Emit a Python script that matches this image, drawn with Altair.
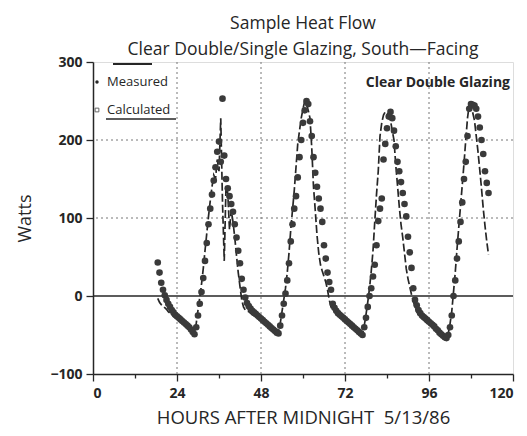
import altair as alt
import pandas as pd

# ---- data (half-hour samples, one list per day segment) ----
SEG_STARTS = [18.5, 43.5, 68.5, 92.5]

measured_seg1 = [43, 30, 17, 8, 1, -5, -10, -14, -18, -21,
                 -24, -26, -28, -30, -32, -34, -36, -38, -40, -43,
                 -46, -49, -40, -25, -10, 5, 23, 45, 68, 92,
                 112, 130, 148, 165, 185, 198, 172, 253, 180, 150,
                 138, 128, 118, 108, 92, 75, 58, 42, 22, 8]
measured_seg2 = [-2, -9, -13, -16, -19, -21, -23, -25, -27, -29,
                 -31, -33, -35, -37, -39, -41, -43, -45, -47, -48,
                 -38, -25, -10, 3, 20, 42, 70, 92, 112, 128,
                 152, 178, 200, 222, 238, 250, 246, 224, 205, 178,
                 158, 140, 125, 112, 95, 65, 48, 30, 18, 8]
measured_seg3 = [-10, -15, -19, -22, -24, -26, -28, -30, -32, -34,
                 -36, -38, -40, -42, -44, -46, -48, -50, -40, -28,
                 -14, 0, 10, 25, 40, 65, 96, 112, 125, 175,
                 195, 215, 230, 236, 228, 212, 192, 172, 160, 146,
                 132, 118, 102, 76, 56, 36, 10, -5]
measured_seg4 = [-12, -18, -22, -25, -27, -29, -31, -33, -35, -37,
                 -39, -42, -44, -47, -49, -51, -53, -54, -50, -40,
                 -25, 0, 20, 48, 70, 95, 120, 150, 172, 205,
                 240, 246, 245, 244, 240, 230, 216, 200, 182, 160,
                 145, 132]

calculated_seg1 = [-3, -8, -11, -13, -15, -17, -20, -22, -24, -26,
                   -28, -30, -31, -33, -34, -36, -38, -40, -42, -44,
                   -47, -46, -35, -18, -2, 15, 35, 58, 80, 102,
                   122, 140, 155, 150, 175, 160, 228, 120, 45, 140,
                   132, 85, 110, 95, 75, 52, 30, 12, -5, -14]
calculated_seg2 = [-18, -19, -20, -22, -24, -25, -27, -28, -30, -32,
                   -34, -35, -37, -39, -40, -42, -44, -45, -47, -46,
                   -35, -20, -5, 10, 30, 55, 85, 110, 135, 165,
                   195, 212, 228, 240, 250, 246, 238, 228, 190, 140,
                   110, 78, 55, 40, 32, 25, 18, 8, -5, -14]
calculated_seg3 = [-18, -20, -22, -24, -26, -28, -29, -31, -33, -35,
                   -36, -38, -40, -42, -44, -46, -48, -49, -38, -24,
                   -8, 10, 32, 58, 95, 130, 160, 205, 222, 232,
                   236, 235, 232, 225, 212, 200, 168, 142, 115, 92,
                   75, 55, 35, 22, 12, 2, -6, -14]
calculated_seg4 = [-20, -24, -27, -29, -31, -33, -35, -36, -38, -40,
                   -42, -44, -46, -48, -50, -52, -53, -53, -48, -36,
                   -20, 5, 30, 60, 88, 115, 142, 170, 200, 228,
                   245, 243, 235, 225, 205, 185, 162, 138, 112, 90,
                   70, 53]

X_TICKS = [0, 24, 48, 72, 96, 120]
X_MINOR = [0, 6, 12, 18, 24, 30, 36, 42, 48, 54, 60, 66, 72, 78, 84, 90, 96, 102, 108, 114, 120]
Y_TICKS = [-100, 0, 100, 200, 300]
X_GRID = [24, 48, 72, 96]
Y_GRID = [100, 200]

FONT = "Open Sans"
INK = "#262626"


def build(segments):
    rows = []
    for start, vals in zip(SEG_STARTS, segments):
        for i, v in enumerate(vals):
            rows.append({"hour": start + 0.5 * i, "watts": v})
    return pd.DataFrame(rows)


meas = build([measured_seg1, measured_seg2, measured_seg3, measured_seg4])
calc = build([calculated_seg1, calculated_seg2, calculated_seg3, calculated_seg4])

xscale = alt.Scale(domain=[0, 120], nice=False, zero=False)
yscale = alt.Scale(domain=[-100, 300], nice=False, zero=False)

xaxis = alt.Axis(
    values=X_MINOR,
    labelExpr="datum.value % 24 == 0 ? datum.label : ''",
    tickSize={"condition": {"test": "datum.value % 24 == 0", "value": 7}, "value": 4},
    grid=False,
    title="HOURS AFTER MIDNIGHT\u00a0\u00a05/13/86",
    titleFontSize=18.5, titleFont=FONT, titleFontWeight="normal", titlePadding=8,
    labelFontSize=14, labelFont=FONT, labelFontWeight="bold", labelPadding=5,
    domainColor=INK, tickColor=INK, labelColor=INK, titleColor=INK,
    domainWidth=1.5, tickWidth=1.3,
)
yaxis = alt.Axis(
    values=Y_TICKS,
    grid=False,
    title="Watts",
    titleFontSize=18, titleFont=FONT, titleFontWeight="normal", titlePadding=15,
    labelFontSize=14, labelFont=FONT, labelFontWeight="bold", labelPadding=4,
    tickSize=7,
    domainColor=INK, tickColor=INK, labelColor=INK, titleColor=INK,
    domainWidth=1.5, tickWidth=1.3,
)

xgrid = alt.Chart(pd.DataFrame({"x": X_GRID})).mark_rule(
    color="#777", strokeDash=[2, 3], strokeWidth=1
).encode(x=alt.X("x:Q", scale=xscale, axis=xaxis))

ygrid = alt.Chart(pd.DataFrame({"y": Y_GRID})).mark_rule(
    color="#777", strokeDash=[2, 3], strokeWidth=1
).encode(y=alt.Y("y:Q", scale=yscale, axis=yaxis))

zero = alt.Chart(pd.DataFrame({"y": [0]})).mark_rule(
    color=INK, strokeWidth=1.5
).encode(y=alt.Y("y:Q", scale=yscale))

calc_line = alt.Chart(calc).mark_line(
    color=INK, strokeWidth=1.7, strokeDash=[8, 3]
).encode(
    x=alt.X("hour:Q", scale=xscale),
    y=alt.Y("watts:Q", scale=yscale),
    order="hour:Q",
)

meas_pts = alt.Chart(meas).mark_circle(
    color="#3a3a3a", size=44, opacity=1
).encode(
    x=alt.X("hour:Q", scale=xscale),
    y=alt.Y("watts:Q", scale=yscale),
)

# ---- legend / annotations (pixel positions inside the plot area) ----
leg_dot = alt.Chart(pd.DataFrame({"k": [0]})).mark_circle(color=INK, size=12, opacity=1).encode(
    x=alt.value(4), y=alt.value(20))
leg_sq = alt.Chart(pd.DataFrame({"k": [0]})).mark_square(
    color=INK, size=14, filled=False, strokeWidth=1).encode(x=alt.value(4), y=alt.value(48))
leg_t1 = alt.Chart(pd.DataFrame({"t": ["Measured"]})).mark_text(
    align="left", baseline="middle", font=FONT, fontSize=13, color=INK).encode(
    text="t:N", x=alt.value(14), y=alt.value(20))
leg_t2 = alt.Chart(pd.DataFrame({"t": ["Calculated"]})).mark_text(
    align="left", baseline="middle", font=FONT, fontSize=13, color=INK).encode(
    text="t:N", x=alt.value(14), y=alt.value(48))
leg_ul = alt.Chart(pd.DataFrame({"k": [0]})).mark_rule(color=INK, strokeWidth=1.5).encode(
    x=alt.value(13), x2=alt.value(83), y=alt.value(57))
leg_top = alt.Chart(pd.DataFrame({"k": [0]})).mark_rule(color=INK, strokeWidth=2).encode(
    x=alt.value(20), x2=alt.value(59), y=alt.value(2))
label_cdg = alt.Chart(pd.DataFrame({"t": ["Clear Double Glazing"]})).mark_text(
    align="right", baseline="middle", font=FONT, fontSize=14, fontWeight="bold", color=INK).encode(
    text="t:N", x=alt.value(417), y=alt.value(21))

chart = alt.layer(
    xgrid, ygrid, zero, calc_line, meas_pts,
    leg_dot, leg_sq, leg_t1, leg_t2, leg_ul, leg_top, label_cdg,
).properties(
    width=420, height=312,
    autosize=alt.AutoSizeParams(type="none"),
    padding={"left": 85, "top": 54, "right": 6, "bottom": 54},
    title=alt.TitleParams(
        text=["Sample Heat Flow", "Clear Double/Single Glazing, South\u2014Facing"],
        font=FONT, fontSize=17.5, fontWeight="normal", color=INK,
        anchor="middle", lineHeight=26, offset=-3,
    ),
).configure_view(
    stroke=INK, strokeWidth=1.5
).configure(background="white")

chart.save("out.html", embed_options={"renderer": "svg", "actions": False})
